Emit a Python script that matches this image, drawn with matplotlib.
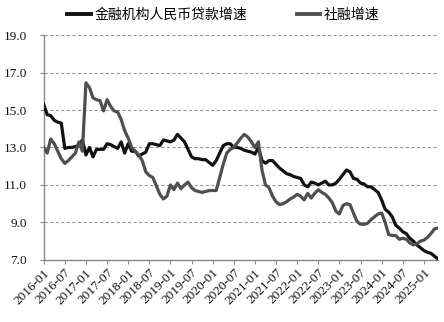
import matplotlib
matplotlib.use("Agg")
import matplotlib.pyplot as plt
import numpy as np

# Monthly series, 2016-01 .. 2025-05 (%, YoY)
months = [f"{y}-{m:02d}" for y in range(2016, 2026) for m in range(1, 13)][:113]

loan_growth = [
    15.3, 14.75, 14.7, 14.45, 14.35, 14.3, 12.95, 13.0, 13.0, 13.05, 13.1, 13.4,
    12.6, 13.0, 12.5, 12.9, 12.9, 12.9, 13.2, 13.15, 13.05, 12.95, 13.3, 12.7,
    13.2, 12.8, 12.8, 12.55, 12.65, 12.75, 13.2, 13.2, 13.15, 13.1, 13.4, 13.35,
    13.3, 13.4, 13.7, 13.5, 13.3, 12.9, 12.5, 12.4, 12.4, 12.35, 12.35, 12.2,
    12.05, 12.3, 12.7, 13.1, 13.2, 13.2, 13.0, 13.0, 12.95, 12.85, 12.8, 12.75,
    12.65, 13.0, 12.3, 12.16, 12.3, 12.3, 12.1, 11.9, 11.75, 11.6, 11.55, 11.45,
    11.4, 11.35, 11.0, 10.9, 11.15, 11.1, 11.0, 11.1, 11.2, 11.0, 11.0, 11.1,
    11.3, 11.55, 11.8, 11.7, 11.35, 11.3, 11.1, 11.05, 10.9, 10.9, 10.75, 10.6,
    10.2, 9.7, 9.55, 9.3, 8.85, 8.7, 8.5, 8.4, 8.15, 8.0, 7.8, 7.65,
    7.5, 7.4, 7.35, 7.2, 7.05,
]

tsf_growth = [
    13.0, 12.7, 13.45, 13.2, 12.8, 12.4, 12.15, 12.3, 12.5, 12.7, 13.3, 12.8,
    16.45, 16.2, 15.65, 15.55, 15.5, 14.95, 15.55, 15.2, 14.95, 14.9, 14.5, 13.9,
    13.5, 13.0, 12.8, 12.6, 12.3, 11.7, 11.5, 11.4, 10.95, 10.5, 10.25, 10.4,
    11.0, 10.75, 11.1, 10.8, 11.0, 11.15, 10.85, 10.7, 10.65, 10.6, 10.65, 10.7,
    10.7, 10.7, 11.4, 12.1, 12.7, 12.9, 13.0, 13.25, 13.5, 13.7, 13.55, 13.3,
    13.0, 13.3, 11.8, 11.0, 10.85, 10.4, 10.1, 9.95, 10.0, 10.1, 10.25, 10.35,
    10.5, 10.4, 10.2, 10.55, 10.3, 10.55, 10.75, 10.6, 10.5, 10.3, 10.05, 9.6,
    9.45, 9.9, 10.0, 9.95, 9.5, 9.05, 8.9, 8.9, 8.95, 9.15, 9.3, 9.45,
    9.5, 9.0, 8.35, 8.3, 8.3, 8.1, 8.15, 8.1, 7.9, 7.8, 7.85, 8.0,
    8.05, 8.2, 8.4, 8.65, 8.7,
]

series_names = ["金融机构人民币贷款增速", "社融增速"]
y_ticks = [7.0, 9.0, 11.0, 13.0, 15.0, 17.0, 19.0]

cjk = ["Noto Sans CJK SC", "DejaVu Sans"]
num_font = "Liberation Serif"

fig = plt.figure(figsize=(4.44, 3.22), dpi=100)
ax = fig.add_axes([0.0984, 0.193, 0.888, 0.698])

x = np.arange(len(months))
ax.plot(x, loan_growth, color="#111111", lw=2.3, solid_joinstyle="round",
        label=series_names[0], zorder=3)
ax.plot(x, tsf_growth, color="#4f4f4f", lw=2.3, solid_joinstyle="round",
        label=series_names[1], zorder=4)

ax.set_xlim(0, len(months) - 1)
ax.set_ylim(7, 19)
ax.set_yticks(y_ticks)
ax.set_yticklabels([f"{v:.1f}" for v in y_ticks], fontfamily=num_font, fontsize=9.5)

tick_pos = list(range(0, len(months), 6))[:19]
ax.set_xticks(tick_pos)
ax.set_xticklabels([months[i] for i in tick_pos], rotation=45, ha="right",
                   rotation_mode="anchor", fontfamily=num_font, fontsize=9.5)

for v in y_ticks[1:]:
    ax.axhline(v, color="#999999", lw=0.8, ls=(0, (3, 2)), zorder=1)

for s in ["top", "right"]:
    ax.spines[s].set_visible(False)
for s in ["left", "bottom"]:
    ax.spines[s].set_color("#888888")
    ax.spines[s].set_linewidth(1.0)
ax.tick_params(axis="both", colors="#888888", length=3, width=0.8,
               labelcolor="#111111")
ax.tick_params(axis="y", pad=9)
ax.tick_params(axis="x", pad=2)

leg = fig.legend(loc="center left", bbox_to_anchor=(0.151, 0.955), ncol=2,
                 frameon=False, prop={"family": cjk, "size": 10},
                 handlelength=1.7, handletextpad=0.25, columnspacing=3.6,
                 borderpad=0.0, borderaxespad=0.0)
for h in leg.legend_handles:
    h.set_linewidth(2.8)

fig.savefig("out.png", dpi=100)
